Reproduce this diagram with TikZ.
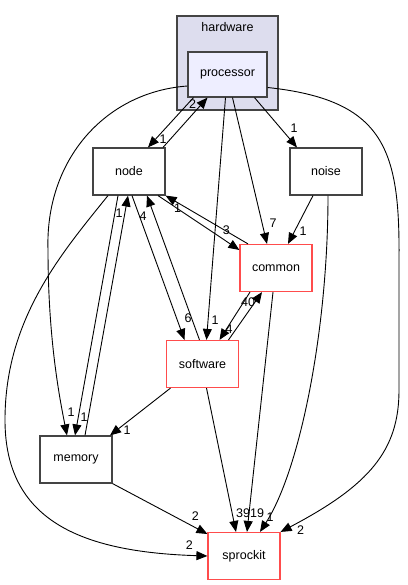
\documentclass[tikz,border=0pt]{standalone}
\usepackage{fontspec}
\setmainfont{Liberation Sans}
\usetikzlibrary{arrows.meta}
\definecolor{dirgrey}{HTML}{444444}
\definecolor{dirred}{HTML}{FF4C4C}
\definecolor{clusterfill}{HTML}{DDDDEE}
\definecolor{procfill}{HTML}{EEEEFF}

\begin{document}
\begin{tikzpicture}[x=1pt, y=-1pt,
                dir/.style={draw=dirgrey, line width=1.2pt, fill=white, minimum width=72pt, minimum height=47pt, inner sep=0pt, font=\fontsize{12.5}{15}\selectfont},
                reddir/.style={dir, draw=dirred},
                cluster/.style={draw=dirgrey, line width=1.2pt, fill=clusterfill, minimum width=101pt, minimum height=94pt, inner sep=0pt},
                dep/.style={-{Triangle[length=11pt, width=9pt]}, line width=0.9pt},
                lbl/.style={font=\fontsize{12.5}{15}\selectfont, inner sep=0pt, pos=1}]
        \useasboundingbox (0, 0) rectangle (407, 585);

        \node[cluster] (hardware) at (227.5, 63) {};
        \node[font=\fontsize{12.5}{15}\selectfont] (hwname) at (227.5, 27) {hardware};
        \node[dir, fill=procfill, minimum width=79pt, minimum height=45pt] (processor) at (227.5, 74.5) {processor};
        \node[dir] (node) at (129, 171.5) {node};
        \node[dir] (noise) at (326, 171.5) {noise};
        \node[reddir] (common) at (276, 268) {common};
        \node[reddir] (software) at (202.5, 364) {software};
        \node[dir] (memory) at (76, 459.5) {memory};
        \node[reddir] (sprockit) at (244, 556) {sprockit};

        \draw[dep] ([xshift=-34pt]processor.south) -- ([xshift=19pt]node.north) node[lbl, xshift=15pt, yshift=8pt]{1};
        \draw[dep] ([xshift=34pt]node.north) -- ([xshift=-20pt]processor.south) node[lbl, xshift=-15pt, yshift=-7pt]{2};
        \draw[dep] ([yshift=-11.5pt]processor.west) .. controls (105, 92) and (45, 160) .. (48, 250)
                .. controls (48, 340) and (60, 400) .. ([xshift=-9pt]memory.north) node[lbl, xshift=4pt, yshift=23pt]{1};
        \draw[dep] ([xshift=-2pt]processor.south) -- ([xshift=4pt]software.north) node[lbl, xshift=8.5pt, yshift=20pt]{1};
        \draw[dep] ([xshift=5pt]processor.south) -- ([xshift=-9pt]common.north) node[lbl, xshift=6pt, yshift=21pt]{7};
        \draw[dep] ([xshift=27pt]processor.south) -- ([xshift=-29pt]noise.north) node[lbl, xshift=-3pt, yshift=19pt]{1};
        \draw[dep] ([yshift=-13pt]processor.east) .. controls (385, 100) and (400, 150) .. (399, 260) -- (399, 390)
                .. controls (399, 450) and (370, 485) .. (sprockit.north east) node[lbl, xshift=20pt, yshift=2pt]{2};

        \draw[dep] ([xshift=-11pt]node.south) -- ([xshift=-1pt]memory.north) node[lbl, xshift=9pt, yshift=18pt]{1};
        \draw[dep] ([xshift=9pt]memory.north) -- ([xshift=-1pt]node.south) node[lbl, xshift=-9pt, yshift=-18pt]{1};
        \draw[dep] ([xshift=3pt]node.south) -- ([xshift=-18pt]software.north) node[lbl, xshift=3.5pt, yshift=22pt]{6};
        \draw[dep] ([xshift=-3pt]software.north) -- ([xshift=18pt]node.south) node[lbl, xshift=-4pt, yshift=-21pt]{4};
        \draw[dep] ([xshift=29pt]node.south) -- ([yshift=18pt]common.west) node[lbl, xshift=-13pt, yshift=20pt]{3};
        \draw[dep] ([xshift=-28pt]common.north) -- (node.south east) node[lbl, xshift=12pt, yshift=-13pt]{1};
        \draw[dep] ([xshift=-21pt]node.south) .. controls (60, 255) and (5, 320) .. (5, 420)
                .. controls (5, 520) and (80, 552) .. (sprockit.west) node[lbl, xshift=-18pt, yshift=11pt]{2};

        \draw[dep] ([xshift=-13pt]noise.south) -- ([xshift=12pt]common.north) node[lbl, xshift=15pt, yshift=13pt]{1};
        \draw[dep] ([xshift=2pt]noise.south) .. controls (328, 330) and (300, 470) .. ([xshift=16pt]sprockit.north) node[lbl, xshift=10pt, yshift=15pt]{1};

        \draw[dep] ([xshift=-26pt]common.south) -- ([xshift=17pt]software.north) node[lbl, xshift=9.5pt, yshift=11pt]{4};
        \draw[dep] ([xshift=26pt]software.north) -- ([xshift=-14pt]common.south) node[lbl, xshift=-14pt, yshift=-10pt]{40};
        \draw[dep] ([xshift=-3pt]common.south) -- ([xshift=3pt]sprockit.north) node[lbl, xshift=10pt, yshift=19pt]{19};

        \draw[dep] ([xshift=4pt]software.south) -- ([xshift=-8pt]sprockit.north) node[lbl, xshift=7pt, yshift=19pt]{39};
        \draw[dep] ([xshift=-32pt]software.south) -- ([xshift=34pt]memory.north) node[lbl, xshift=17pt, yshift=5pt]{1};
        \draw[dep] (memory.south east) -- ([yshift=22pt]sprockit.west) node[lbl, xshift=-12pt, yshift=18pt]{2};
\end{tikzpicture}
\end{document}
